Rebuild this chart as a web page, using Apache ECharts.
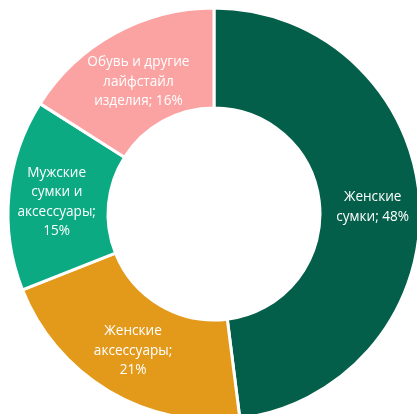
<!DOCTYPE html>
<html><head><meta charset="utf-8">
<script src="https://cdn.jsdelivr.net/npm/echarts@6/dist/echarts.min.js"></script>
<style>html,body{margin:0;padding:0;background:#fff}#c{width:417px;height:414px}</style>
</head><body><div id="c"></div>
<script>
const categories = ["Женские\nсумки", "Женские\nаксессуары", "Мужские\nсумки и\nаксессуары", "Обувь и другие\nлайфстайл\nизделия"];
const values = [48, 21, 15, 16];
const colors = ["#035F49", "#E39A1B", "#0BAA83", "#FBA3A3"];
const labelTexts = ["Женские\nсумки; 48%", "Женские\nаксессуары;\n21%", "Мужские\nсумки и\nаксессуары;\n15%", "Обувь и другие\nлайфстайл\nизделия; 16%"];
const labelShift = [[0, 3], [0, 0], [1, 3], [1, 7]];

const chart = echarts.init(document.getElementById('c'));
chart.setOption({
  animation: false,
  series: [{
    type: 'pie',
    center: [214, 214],
    radius: [106, 206],
    startAngle: 90,
    clockwise: true,
    itemStyle: { borderColor: '#fff', borderWidth: 3 },
    label: {
      position: 'inside',
      color: '#fff',
      fontFamily: 'Open Sans',
      fontSize: 13.6,
      lineHeight: 19.5,
      align: 'center',
      formatter: p => labelTexts[p.dataIndex]
    },
    labelLine: { show: false },
    data: categories.map((c, i) => ({ name: c, value: values[i], itemStyle: { color: colors[i] }, label: { offset: labelShift[i] } }))
  }]
});
</script></body></html>
